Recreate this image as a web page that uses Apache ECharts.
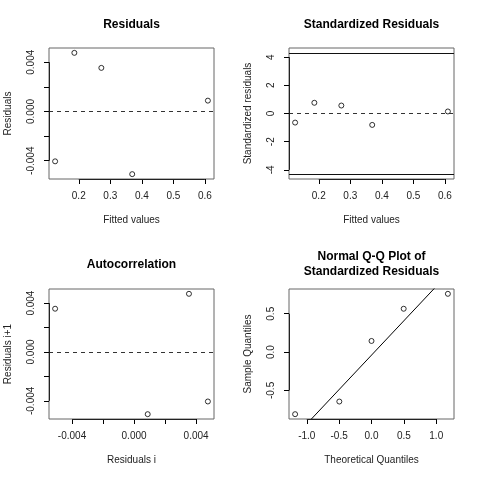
<!DOCTYPE html>
<html>
<head>
<meta charset="utf-8">
<script src="https://cdn.jsdelivr.net/npm/echarts@6/dist/echarts.min.js"></script>
<style>
html,body{margin:0;padding:0;background:#fff;}
#chart{width:480px;height:480px;}
</style>
</head>
<body>
<div id="chart"></div>
<script>
// ---- data ----
const fittedValues = [0.6095, 0.3695, 0.2716, 0.186, 0.125];
const residuals = [0.00088, -0.00509, 0.00354, 0.00476, -0.00405];
const standardizedResiduals = [0.145, -0.81, 0.565, 0.76, -0.645];
const tCritical = 4.3027;
const theoreticalQuantiles = [-1.18, -0.497, 0, 0.497, 1.18];
const sampleQuantiles = [-0.81, -0.645, 0.145, 0.565, 0.76];

const fittedTicks = [0.2, 0.3, 0.4, 0.5, 0.6];
const residTicks = [-0.004, -0.002, 0, 0.002, 0.004];
const residLabels = [-0.004, 0, 0.004];
const stdTicks = [-4, -2, 0, 2, 4];
const qqXTicks = [-1, -0.5, 0, 0.5, 1];
const qqYTicks = [-0.5, 0, 0.5];

// ---- helpers ----
const FONT = "'Liberation Sans', Arial, Helvetica, sans-serif";
function rRange(arr){
  const mn = Math.min(...arr), mx = Math.max(...arr), r = mx - mn;
  return [mn - 0.04*r, mx + 0.04*r];
}
function quantile7(sorted, p){
  const h = (sorted.length - 1) * p, lo = Math.floor(h), hi = Math.ceil(h);
  return sorted[lo] + (h - lo) * (sorted[hi] - sorted[lo]);
}
const autoX = residuals.slice(0, -1);
const autoY = residuals.slice(1);

// qqline through quartiles
const sq = sampleQuantiles.slice().sort((a,b)=>a-b);
const y25 = quantile7(sq, 0.25), y75 = quantile7(sq, 0.75);
const zq = 0.6744897501960817;
const qqSlope = (y75 - y25) / (2*zq);
const qqInt = y25 + zq*qqSlope;

const grids = [
  {left: 49, top: 48, width: 165, height: 131},
  {left: 289, top: 48, width: 165, height: 131},
  {left: 49, top: 289, width: 165, height: 130},
  {left: 289, top: 289, width: 165, height: 130}
].map(g => Object.assign(g, {show: true, borderColor: '#666', borderWidth: 1, backgroundColor: 'transparent', containLabel: false}));

function xAx(gi, range, ticks, labels, dec, name){
  return {
    gridIndex: gi, type: 'value', min: range[0], max: range[1], position: 'bottom',
    axisLine: {show: false, onZero: false},
    splitLine: {show: false},
    axisTick: {show: true, length: 5, customValues: ticks, lineStyle: {color: '#000', width: 1}},
    axisLabel: {customValues: labels, formatter: v => Number(v).toFixed(dec), fontSize: 10, color: '#222', fontFamily: FONT, margin: 12},
    name: name, nameLocation: 'middle', nameGap: 36,
    nameTextStyle: {fontSize: 10, color: '#222', fontFamily: FONT}
  };
}
function yAx(gi, range, ticks, labels, dec, name){
  return {
    gridIndex: gi, type: 'value', min: range[0], max: range[1], position: 'left',
    axisLine: {show: false, onZero: false},
    splitLine: {show: false},
    axisTick: {show: true, length: 5, customValues: ticks, lineStyle: {color: '#000', width: 1}},
    axisLabel: {customValues: labels, formatter: v => Number(v).toFixed(dec), rotate: 90, fontSize: 10, color: '#222', fontFamily: FONT, margin: 13},
    name: name, nameLocation: 'middle', nameGap: 36,
    nameTextStyle: {fontSize: 10, color: '#222', fontFamily: FONT}
  };
}

const dashed = {type: [4, 4], color: '#333', width: 1};
const solid = {type: 'solid', color: '#111', width: 1};
const axisSeg = {type: 'solid', color: '#222', width: 1};
const pointStyle = {color: 'rgba(0,0,0,0)', borderColor: '#000', borderWidth: 1};

// R-style axis line: runs from first to last tick along the box edge
function axisSegments(xr, yr, xt, yt){
  return [
    [{coord: [xt[0], yr[0]], lineStyle: axisSeg}, {coord: [xt[xt.length-1], yr[0]]}],
    [{coord: [xr[0], yt[0]], lineStyle: axisSeg}, {coord: [xr[0], yt[yt.length-1]]}]
  ];
}

function scatter(gi, data, markLines){
  return {
    type: 'scatter', xAxisIndex: gi, yAxisIndex: gi, data: data,
    symbol: 'circle', symbolSize: 5, itemStyle: pointStyle, silent: true,
    markLine: {silent: true, symbol: 'none', label: {show: false}, animation: false, data: markLines}
  };
}

const xr0 = rRange(fittedValues), yr0 = rRange(residuals);
const xr1 = rRange(fittedValues), yr1 = rRange(standardizedResiduals.concat([tCritical, -tCritical]));
const xr2 = rRange(autoX), yr2 = rRange(autoY);
const xr3 = rRange(theoreticalQuantiles), yr3 = rRange(sampleQuantiles);

const option = {
  animation: false,
  backgroundColor: '#fff',
  grid: grids,
  xAxis: [
    xAx(0, xr0, fittedTicks, fittedTicks, 1, 'Fitted values'),
    xAx(1, xr1, fittedTicks, fittedTicks, 1, 'Fitted values'),
    xAx(2, xr2, residTicks, residLabels, 3, 'Residuals i'),
    xAx(3, xr3, qqXTicks, qqXTicks, 1, 'Theoretical Quantiles')
  ],
  yAxis: [
    yAx(0, yr0, residTicks, residLabels, 3, 'Residuals'),
    yAx(1, yr1, stdTicks, stdTicks, 0, 'Standardized residuals'),
    yAx(2, yr2, residTicks, residLabels, 3, 'Residuals i+1'),
    yAx(3, yr3, qqYTicks, qqYTicks, 1, 'Sample Quantiles')
  ],
  series: [
    scatter(0, fittedValues.map((x,i)=>[x, residuals[i]]),
      [{yAxis: 0, lineStyle: dashed}].concat(axisSegments(xr0, yr0, fittedTicks, residTicks))),
    scatter(1, fittedValues.map((x,i)=>[x, standardizedResiduals[i]]), [
      {yAxis: 0, lineStyle: dashed},
      {yAxis: tCritical, lineStyle: solid},
      {yAxis: -tCritical, lineStyle: solid}
    ].concat(axisSegments(xr1, yr1, fittedTicks, stdTicks))),
    scatter(2, autoX.map((x,i)=>[x, autoY[i]]),
      [{yAxis: 0, lineStyle: dashed}].concat(axisSegments(xr2, yr2, residTicks, residTicks))),
    scatter(3, theoreticalQuantiles.map((x,i)=>[x, sampleQuantiles[i]]),
      axisSegments(xr3, yr3, qqXTicks, qqYTicks)),
    {
      type: 'line', xAxisIndex: 3, yAxisIndex: 3, clip: true, silent: true,
      symbol: 'none', lineStyle: {color: '#000', width: 1},
      data: [[-5, qqInt - 5*qqSlope], [5, qqInt + 5*qqSlope]]
    }
  ],
  graphic: [
    {type: 'text', x: 131.5, y: 25, style: {text: 'Residuals', textAlign: 'center', textVerticalAlign: 'middle', font: 'bold 12px ' + FONT, fill: '#000'}},
    {type: 'text', x: 371.5, y: 25, style: {text: 'Standardized Residuals', textAlign: 'center', textVerticalAlign: 'middle', font: 'bold 12px ' + FONT, fill: '#000'}},
    {type: 'text', x: 131.5, y: 265, style: {text: 'Autocorrelation', textAlign: 'center', textVerticalAlign: 'middle', font: 'bold 12px ' + FONT, fill: '#000'}},
    {type: 'text', x: 371.5, y: 257, style: {text: 'Normal Q-Q Plot of', textAlign: 'center', textVerticalAlign: 'middle', font: 'bold 12px ' + FONT, fill: '#000'}},
    {type: 'text', x: 371.5, y: 272, style: {text: 'Standardized Residuals', textAlign: 'center', textVerticalAlign: 'middle', font: 'bold 12px ' + FONT, fill: '#000'}}
  ]
};

const chart = echarts.init(document.getElementById('chart'), null, {renderer: 'canvas'});
chart.setOption(option);
</script>
</body>
</html>
